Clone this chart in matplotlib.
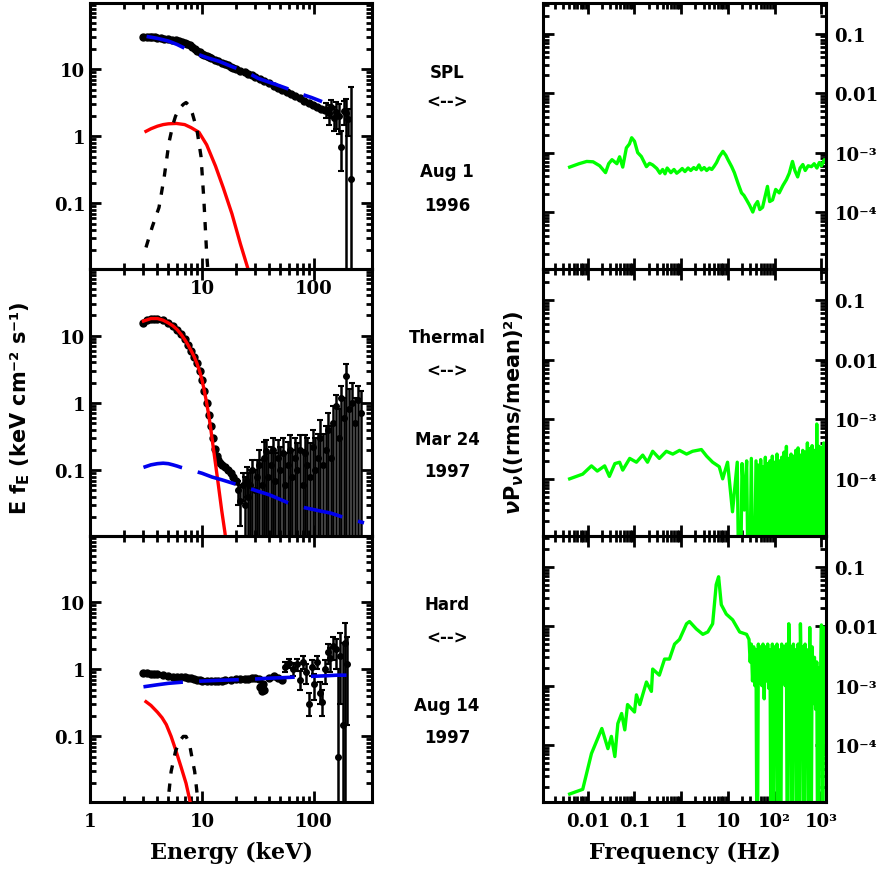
import matplotlib
matplotlib.use('Agg')
import matplotlib.pyplot as plt
from matplotlib.ticker import FixedLocator, FixedFormatter, LogLocator, NullFormatter

plt.rcParams['font.family'] = 'DejaVu Serif'
plt.rcParams['font.weight'] = 'bold'
plt.rcParams['mathtext.fontset'] = 'dejavusans'

# ---- energy spectra: SPL state (Aug 1 1996) ----
spl_e = [3.0, 3.2, 3.4, 3.6, 3.8, 4.0, 4.3, 4.6, 5.0, 5.4, 5.8, 6.2, 6.6, 7.0, 7.4, 7.8,
         8.2, 8.6, 9.0, 9.5, 10, 10.5, 11, 11.5, 12, 13, 14, 15, 16, 17, 18, 19, 20, 22,
         24, 26, 28, 30, 33, 36, 40, 44, 48, 52, 57, 62, 68, 75, 82, 90, 98, 107, 116, 125]
spl_f = [30, 30.5, 30.5, 30, 30, 29.5, 29, 28.5, 28, 27.5, 27, 26.5, 25.5, 25, 24, 23,
         21.5, 20, 19, 18, 17, 16.3, 15.7, 15.2, 14.7, 13.8, 13.2, 12.6, 12, 11.5, 11, 10.6,
         10.2, 9.6, 9.1, 8.6, 8.2, 7.8, 7.2, 6.7, 6.2, 5.7, 5.3, 5.0, 4.6, 4.3, 4.0, 3.7,
         3.4, 3.15, 2.95, 2.75, 2.6, 2.45]
spl_he_e = [128, 135, 142, 150, 158, 166, 175, 184, 193, 203, 213]
spl_he_f = [2.5, 2.2, 2.7, 1.9, 2.3, 2.0, 0.7, 2.4, 2.2, 1.8, 0.23]
spl_he_lo = [1.9, 1.5, 1.9, 1.2, 1.3, 1.1, 0.3, 1.5, 0.001, 1.0, 0.001]
spl_he_hi = [3.1, 2.9, 3.5, 2.7, 3.3, 3.0, 1.2, 3.4, 3.6, 2.6, 5.4]
spl_pl_e = [3.2, 4, 5, 6, 7.3, 9, 11, 14.2, 18, 25, 32, 45, 63, 73, 95, 118]
spl_pl_f = [31, 29, 26.5, 23.5, 20, 17, 15, 13.2, 11.2, 9.1, 7.3, 6.0, 4.9, 4.4, 3.8, 3.3]
spl_disk_e = [3.16, 3.5, 4, 4.5, 5, 5.9, 7, 8, 9.4, 11, 13.2, 15.5, 18.5, 22, 26]
spl_disk_f = [1.19, 1.3, 1.42, 1.5, 1.54, 1.56, 1.5, 1.35, 1.15, 0.75, 0.36, 0.17, 0.07, 0.025, 0.01]
spl_line_e = [3.16, 3.6, 4.13, 4.6, 5.07, 5.5, 5.8, 6.3, 6.8, 7.2, 7.66, 8.2, 9.0, 9.8, 10.4, 11.0, 11.4]
spl_line_f = [0.022, 0.045, 0.087, 0.25, 0.81, 1.5, 2.0, 2.6, 3.0, 3.2, 2.9, 2.2, 1.27, 0.5, 0.11, 0.018, 0.008]

# ---- energy spectra: thermal state (Mar 24 1997) ----
th_e = [3.0, 3.25, 3.5, 3.75, 4.0, 4.5, 5.0, 5.5, 6.0, 6.5, 7.0, 7.5, 8.0, 8.5, 9.0, 9.5,
        10, 10.5, 11, 11.5, 12, 12.5, 13, 13.5, 14, 14.5, 15, 16, 17, 18, 19, 20]
th_f = [15.5, 17, 17.8, 18, 18, 17, 15.5, 14, 12.3, 10.5, 8.8, 7.3, 6.0, 4.9, 3.9, 3.0,
        2.2, 1.5, 1.0, 0.67, 0.45, 0.3, 0.21, 0.16, 0.14, 0.13, 0.12, 0.11, 0.1, 0.09, 0.08, 0.07]
th_he_e = [21, 22, 23, 24, 25, 26, 27, 28, 29.5, 31, 32.5, 34, 35.5, 37, 39, 41, 43, 45,
           47.5, 50, 52.5, 55, 58, 61, 64, 67.5, 71, 75, 79, 83, 87, 92, 97, 102, 108, 114,
           120, 127, 134, 141, 149, 157, 166, 175, 185, 195, 206, 218, 232, 248, 265]
th_he_f = [0.05, 0.035, 0.06, 0.03, 0.07, 0.04, 0.06, 0.1, 0.05, 0.08, 0.12, 0.06, 0.15,
           0.19, 0.08, 0.12, 0.2, 0.07, 0.15, 0.1, 0.18, 0.06, 0.12, 0.2, 0.08, 0.15, 0.1,
           0.2, 0.06, 0.18, 0.12, 0.08, 0.22, 0.1, 0.15, 0.3, 0.12, 0.2, 0.4, 0.15, 0.5, 0.9,
           0.3, 1.2, 0.6, 2.5, 0.8, 1.0, 0.5, 1.1, 0.7]
th_he_lo = [0.03, 0.015, 0.035, 0.005, 0.04] + [0.001] * 46
th_he_hi = [0.07, 0.06, 0.09, 0.08, 0.11, 0.09, 0.1, 0.14, 0.1, 0.14, 0.2, 0.14, 0.26,
            0.28, 0.18, 0.22, 0.3, 0.18, 0.28, 0.22, 0.3, 0.18, 0.26, 0.33, 0.2, 0.3, 0.25,
            0.33, 0.2, 0.33, 0.3, 0.25, 0.4, 0.3, 0.35, 0.55, 0.35, 0.45, 0.7, 0.45, 0.9, 1.3,
            0.8, 1.8, 1.2, 3.8, 1.6, 2.0, 1.2, 1.8, 1.5]
th_pl_e = [3, 3.5, 4, 4.5, 5, 5.5, 6, 6.5, 8, 10, 12.3, 15, 20, 26, 30, 40, 58, 80, 110, 141, 200, 280]
th_pl_f = [0.11, 0.12, 0.125, 0.127, 0.125, 0.12, 0.115, 0.11, 0.1, 0.09, 0.079, 0.072, 0.062,
           0.054, 0.05, 0.043, 0.033, 0.028, 0.025, 0.023, 0.019, 0.0165]
th_disk_e = [3.0, 3.5, 4.0, 4.5, 5.0, 5.5, 6.0, 6.5, 7.0, 7.5, 8.0, 8.5, 9.0, 9.5, 10.0, 10.5,
             11.0, 11.5, 12.0, 12.5, 13, 14, 15, 16, 16.5]
th_disk_f = [16.5, 18, 18, 17, 15.5, 14, 12.3, 10.5, 8.8, 7.3, 6.0, 4.9, 3.9, 3.0, 2.2, 1.5,
             1.0, 0.65, 0.4, 0.24, 0.15, 0.06, 0.025, 0.012, 0.008]

# ---- energy spectra: hard state (Aug 14 1997) ----
hd_e = [3.0, 3.25, 3.5, 3.75, 4, 4.5, 5, 5.5, 6, 6.5, 7, 7.5, 8, 8.5, 9, 9.5, 10, 11, 12, 13,
        14, 15, 16, 18, 20, 22, 24, 26, 28, 30, 32, 33, 34, 35, 36, 40, 44, 48, 52]
hd_f = [0.88, 0.87, 0.86, 0.85, 0.84, 0.82, 0.8, 0.78, 0.77, 0.76, 0.76, 0.75, 0.74, 0.72,
        0.7, 0.69, 0.68, 0.67, 0.67, 0.67, 0.68, 0.68, 0.69, 0.7, 0.71, 0.72, 0.72, 0.73, 0.74,
        0.75, 0.72, 0.55, 0.48, 0.6, 0.5, 0.75, 0.8, 0.75, 0.7]
hd_he_e = [55, 60, 65, 70, 75, 80, 85, 90, 95, 100, 106, 112, 118, 125, 132, 140, 148, 156,
           165, 172, 180, 188, 196]
hd_he_f = [1.1, 1.25, 1.0, 1.2, 0.7, 1.3, 0.9, 0.3, 1.1, 0.6, 1.3, 0.45, 0.33, 1.0, 1.8, 1.5,
           2.2, 2.0, 0.05, 1.6, 0.15, 2.5, 1.2]
hd_he_lo = [0.9, 1.05, 0.8, 0.95, 0.5, 1.0, 0.6, 0.2, 0.8, 0.35, 1.0, 0.3, 0.2, 0.6, 1.2, 0.9,
            1.4, 1.0, 0.001, 0.3, 0.001, 0.001, 0.15]
hd_he_hi = [1.3, 1.45, 1.25, 1.45, 0.95, 1.6, 1.2, 0.45, 1.4, 0.85, 1.6, 0.65, 0.5, 1.4, 2.4,
            2.1, 3.0, 2.8, 1.0, 3.5, 2.5, 5.0, 3.0]
hd_pl_e = [3, 4, 5, 7, 10, 15, 20, 30, 40, 60, 80, 120, 160, 195]
hd_pl_f = [0.55, 0.59, 0.62, 0.65, 0.67, 0.69, 0.7, 0.72, 0.74, 0.76, 0.78, 0.8, 0.82, 0.82]
hd_disk_e = [3.16, 3.5, 4.0, 4.4, 4.8, 5.3, 5.8, 6.5, 7.2, 7.8, 8.0]
hd_disk_f = [0.33, 0.29, 0.23, 0.19, 0.15, 0.1, 0.064, 0.035, 0.02, 0.011, 0.008]
hd_line_e = [4.8, 5.0, 5.3, 5.8, 6.3, 6.8, 7.2, 7.7, 8.2, 8.6, 9.0, 9.4]
hd_line_f = [0.008, 0.012, 0.03, 0.06, 0.085, 0.1, 0.1, 0.08, 0.045, 0.03, 0.015, 0.008]

# ---- power spectra (nu P_nu) ----
LOW = 1e-7  # below the plotted range
psd1_f = [0.0041, 0.0065, 0.0095, 0.013, 0.018, 0.024, 0.028, 0.033, 0.042, 0.048, 0.056,
          0.067, 0.078, 0.087, 0.10, 0.117, 0.14, 0.18, 0.21, 0.245, 0.3, 0.35, 0.4, 0.45,
          0.5, 0.6, 0.7, 0.8, 0.92, 1.05, 1.2, 1.4, 1.6, 1.85, 2.1, 2.4, 2.7, 3.1, 3.5, 4.0,
          4.5, 5.0, 5.7, 6.5, 7.8, 9.0, 10, 12, 13.7, 16.5, 19.5, 22, 25, 29, 34, 38, 43, 48,
          55, 62, 70, 78, 90, 105, 125, 150, 178, 205, 240, 270, 310, 350, 400, 450, 520,
          610, 700, 800, 900, 1000, 1150, 1230]
psd1_p = [5.7e-4, 6.5e-4, 7.1e-4, 7e-4, 6e-4, 4.6e-4, 6.5e-4, 7.6e-4, 6.5e-4, 8.5e-4, 5.7e-4,
          1.2e-3, 1.4e-3, 1.78e-3, 1.55e-3, 1.0e-3, 8.6e-4, 5.8e-4, 6.6e-4, 6.2e-4, 5.4e-4,
          4.5e-4, 5.2e-4, 4.4e-4, 5.5e-4, 4.6e-4, 5.2e-4, 4.5e-4, 4.9e-4, 5.4e-4, 4.8e-4,
          5.5e-4, 5.0e-4, 5.6e-4, 5.2e-4, 6.2e-4, 5.1e-4, 5.6e-4, 5.0e-4, 5.5e-4, 5.2e-4,
          5.8e-4, 6.8e-4, 8.5e-4, 1.05e-3, 9e-4, 7.6e-4, 5.8e-4, 4.6e-4, 3.0e-4, 2.1e-4,
          1.9e-4, 1.6e-4, 1.3e-4, 1.0e-4, 1.3e-4, 1.5e-4, 1.1e-4, 1.2e-4, 1.8e-4, 2.7e-4,
          1.5e-4, 1.6e-4, 2.4e-4, 2.1e-4, 2.8e-4, 3.5e-4, 4.5e-4, 7.1e-4, 5e-4, 3.9e-4,
          5.5e-4, 6.3e-4, 5.0e-4, 6.0e-4, 5.8e-4, 6.5e-4, 5.5e-4, 6.8e-4, 6.0e-4, 7.6e-4, 7e-4]
psd2_f = [0.0041, 0.0078, 0.012, 0.016, 0.023, 0.029, 0.038, 0.048, 0.056, 0.079, 0.11, 0.15,
          0.19, 0.245, 0.34, 0.48, 0.66, 0.92, 1.3, 1.75, 2.7, 3.5, 4.7, 6.5, 7.7, 9.8, 12.5,
          15.8, 17.8, 20.0, 22.4, 25.1, 28.2, 31.6, 35.5,
          39.8, 42.2, 44.7, 47.3, 50.1, 53.1, 56.2, 59.6, 63.1, 66.8, 70.8, 75.0, 79.4, 84.1,
          89.1, 94.4, 100, 106, 112, 119, 126, 133, 141, 150, 158, 168, 178, 188, 200, 211,
          224, 237, 251, 266, 282, 299, 316, 335, 355, 376, 398, 422, 447, 473, 501, 531,
          562, 596, 631, 668, 708, 750, 794, 841, 891, 944, 1000, 1059, 1122, 1189]
psd2_p = [1e-4, 1.2e-4, 1.65e-4, 1.35e-4, 1.65e-4, 1.1e-4, 1.8e-4, 1.9e-4, 1.4e-4, 2.2e-4,
          1.9e-4, 2.5e-4, 1.9e-4, 2.9e-4, 2.2e-4, 2.9e-4, 2.6e-4, 3.0e-4, 2.6e-4, 2.9e-4,
          3.1e-4, 2.4e-4, 1.9e-4, 1.6e-4, 1e-4, 1.9e-4, 2.8e-5,
          1.9e-4, LOW, 1.8e-4, 3e-5, 2.0e-4, LOW, 2.2e-4, LOW,
          2.0e-4, LOW, 1.7e-4, LOW, 2.1e-4, LOW, 1.6e-4, LOW, 2.3e-4, LOW, 1.8e-4, LOW,
          2.0e-4, LOW, 2.4e-4, LOW, 1.9e-4, LOW, 2.6e-4, LOW, 2.0e-4, LOW, 2.3e-4, LOW,
          2.8e-4, LOW, 3.5e-4, LOW, 2.2e-4, LOW, 2.6e-4, LOW, 2.4e-4, LOW, 3.0e-4, LOW,
          3.3e-4, LOW, 2.5e-4, LOW, 3.0e-4, LOW, 2.8e-4, LOW, 4.0e-4, LOW, 3.2e-4, LOW,
          3.6e-4, LOW, 3.0e-4, LOW, 8.3e-4, LOW, 3.5e-4, LOW, 3.4e-4, LOW, 4.0e-4, 3.2e-4]
psd3_f = [0.0041, 0.0078, 0.012, 0.02, 0.027, 0.032, 0.038, 0.044, 0.053, 0.062, 0.071, 0.1,
          0.11, 0.13, 0.18, 0.23, 0.245, 0.34, 0.44, 0.56, 0.72, 0.92, 1.3, 1.5, 2.1, 2.9,
          3.7, 4.7, 5.6, 6.3, 7.2, 9.2, 12.6, 17.8, 25,
          28.2, 29.9, 31.6, 33.5, 35.5, 37.6, 39.8, 42.2, 44.7, 47.3, 50.1, 53.1, 56.2, 59.6,
          63.1, 66.8, 70.8, 75.0, 79.4, 84.1, 89.1, 94.4, 100, 106, 112, 119, 126, 133, 141,
          150, 158, 168, 178, 188, 200, 211, 224, 237, 251, 266, 282, 299, 316, 335, 355,
          376, 398, 422, 447, 473, 501, 531, 562, 596, 631, 668, 708, 750, 794, 841, 891,
          944, 1000, 1059, 1122, 1189]
psd3_p = [1.5e-5, 1.8e-5, 7.2e-5, 1.9e-4, 8.7e-5, 1.4e-4, 6.4e-5, 2.3e-4, 3.4e-4, 1.8e-4,
          4.8e-4, 3.6e-4, 7e-4, 4.8e-4, 1.15e-3, 8e-4, 1.9e-3, 1.5e-3, 2.8e-3, 2.8e-3, 5e-3,
          6e-3, 0.011, 0.012, 9e-3, 7.3e-3, 8e-3, 0.011, 0.05, 0.068, 0.023, 0.016, 0.0128,
          8e-3, 7.3e-3,
          6e-3, 2.5e-3, 5e-3, 1.2e-3, 4.5e-3, 1.0e-3, 4e-3, LOW, 5e-3, 1.1e-3, 4.5e-3,
          1.0e-3, 5e-3, 6e-4, 4.5e-3, 1.2e-3, 5e-3, 9e-4, 4e-3, LOW, 5e-3, LOW, 4.5e-3,
          1.0e-3, 5e-3, LOW, 4e-3, LOW, 5e-3, 1.2e-3, 4.5e-3, 1e-3, 5e-3, LOW, 0.011, 1.0e-3,
          4.5e-3, LOW, 5e-3, 1.1e-3, 4e-3, LOW, 5e-3, LOW, 0.011, 8e-4, 4.5e-3, LOW, 5e-3,
          1e-3, 4e-3, LOW, 0.0095, LOW, 4.5e-3, 5e-4, 3e-3, 4e-4, 2.5e-3, LOW, 2e-3, 6e-4,
          0.0105, LOW, 0.0095, 3e-3]

# panel notes between the two columns
notes = [('SPL', 'Aug 1', '1996'), ('Thermal', 'Mar 24', '1997'), ('Hard', 'Aug 14', '1997')]

fig = plt.figure(figsize=(8.8, 8.78), dpi=100)
rows = [(0.6925, 0.303), (0.3884, 0.304), (0.0854, 0.303)]
ax_e = [fig.add_axes([0.1023, b, 0.3205, h]) for b, h in rows]
ax_p = [fig.add_axes([0.617, b, 0.3216, h]) for b, h in rows]

minor = LogLocator(base=10, subs=[2, 3, 4, 5, 6, 7, 8, 9], numticks=30)


def style(ax):
    ax.set_xscale('log')
    ax.set_yscale('log')
    ax.patch.set_visible(False)
    ax.tick_params(which='both', direction='in', top=True, right=True, width=2,
                   labelsize=13)
    ax.tick_params(which='major', length=8)
    ax.tick_params(which='minor', length=4)
    for s in ax.spines.values():
        s.set_linewidth(2.2)
    ax.xaxis.set_minor_locator(minor)
    ax.yaxis.set_minor_locator(minor)
    ax.xaxis.set_minor_formatter(NullFormatter())
    ax.yaxis.set_minor_formatter(NullFormatter())


# energy spectra
spectra = [
    (spl_e, spl_f, spl_he_e, spl_he_f, spl_he_lo, spl_he_hi, spl_pl_e, spl_pl_f,
     spl_disk_e, spl_disk_f, spl_line_e, spl_line_f),
    (th_e, th_f, th_he_e, th_he_f, th_he_lo, th_he_hi, th_pl_e, th_pl_f,
     th_disk_e, th_disk_f, None, None),
    (hd_e, hd_f, hd_he_e, hd_he_f, hd_he_lo, hd_he_hi, hd_pl_e, hd_pl_f,
     hd_disk_e, hd_disk_f, hd_line_e, hd_line_f),
]
for i, (ax, sp) in enumerate(zip(ax_e, spectra)):
    e, f, he, hf, hlo, hhi, pe, pf, de, df, le, lf = sp
    style(ax)
    ax.plot(e, f, 'o', color='k', ms=5, zorder=3)
    yerr = [[v - l for v, l in zip(hf, hlo)], [h - v for v, h in zip(hf, hhi)]]
    ax.errorbar(he, hf, yerr=yerr, fmt='o', color='k', ms=4, elinewidth=1.8, capsize=2.5,
                capthick=1.5, zorder=3)
    ax.plot(de, df, color='#ff0000', lw=2.4, zorder=4)
    ax.plot(pe, pf, color='#0000ee', lw=2.6, dashes=(11, 4.5), zorder=5)
    if le is not None:
        ax.plot(le, lf, color='k', lw=2.4, dashes=(2.5, 3), zorder=4)
    ax.set_xlim(1, 330)
    ax.set_ylim(0.0105, 98)
    ax.xaxis.set_major_locator(FixedLocator([1, 10, 100]))
    ax.yaxis.set_major_locator(FixedLocator([0.01, 0.1, 1, 10, 100]))
    ax.yaxis.set_major_formatter(FixedFormatter(['', '0.1', '1', '10', '']))
    if i == 0:
        ax.xaxis.set_major_formatter(FixedFormatter(['', '10', '100']))
    elif i == 2:
        ax.xaxis.set_major_formatter(FixedFormatter(['1', '10', '100']))
    else:
        ax.xaxis.set_major_formatter(NullFormatter())
    ax.tick_params(axis='x', pad=7)

# power spectra
for i, (ax, f, p) in enumerate(zip(ax_p, [psd1_f, psd2_f, psd3_f], [psd1_p, psd2_p, psd3_p])):
    style(ax)
    ax.plot(f, p, color='#00ff00', lw=2.4)
    ax.set_xlim(1.1e-3, 1250)
    ax.set_ylim(1.1e-5, 0.33)
    ax.xaxis.set_major_locator(FixedLocator([1e-3, 1e-2, 0.1, 1, 10, 100, 1000]))
    ax.yaxis.set_major_locator(FixedLocator([1e-5, 1e-4, 1e-3, 0.01, 0.1]))
    ax.yaxis.set_major_formatter(FixedFormatter(['', '10⁻⁴', '10⁻³', '0.01', '0.1']))
    ax.tick_params(axis='y', labelleft=False, labelright=True, pad=6)
    if i == 2:
        ax.xaxis.set_major_formatter(
            FixedFormatter(['', '0.01', '0.1', '1', '10', '10²', '10³']))
        ax.tick_params(axis='x', pad=7)
    else:
        ax.xaxis.set_major_formatter(NullFormatter())

ax_e[2].set_xlabel('Energy (keV)', fontsize=16, fontweight='bold', labelpad=8)
ax_p[2].set_xlabel('Frequency (Hz)', fontsize=16, fontweight='bold', labelpad=8)
fig.text(0.023, 0.535, r'E f$_\mathbf{E}$ (keV cm⁻² s⁻¹)', rotation=90, ha='center',
         va='center', fontsize=15, fontweight='bold', family='DejaVu Sans')
fig.text(0.584, 0.53, r'$\nu$P$_\nu$((rms/mean)²)', rotation=90, ha='center',
         va='center', fontsize=15, fontweight='bold', family='DejaVu Sans')

note_y = [(0.917, 0.883, 0.804, 0.765), (0.615, 0.577, 0.499, 0.462),
          (0.311, 0.273, 0.196, 0.159)]
for (state, day, year), ys in zip(notes, note_y):
    for txt, y in zip([state, '<-->', day, year], ys):
        fig.text(0.508, y, txt, ha='center', va='center', fontsize=12, fontweight='bold',
                 family='DejaVu Sans')

fig.savefig('out.png', dpi=100)
